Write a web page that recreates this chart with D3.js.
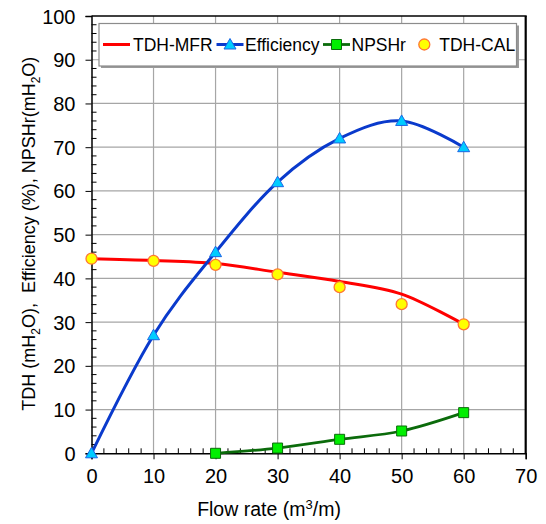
<!DOCTYPE html>
<html>
<head>
<meta charset="utf-8">
<script src="https://cdn.jsdelivr.net/npm/d3@7"></script>
<style>
  html, body { margin: 0; padding: 0; background: #fff; }
  svg { display: block; font-family: "Liberation Sans", Arial, sans-serif; }
</style>
</head>
<body>
<svg id="chart" width="546" height="524"></svg>
<script>
// ---- data ----
const flowTDH = [0, 10, 20, 30, 40, 50, 60];
const tdhMFR = [44.5, 44.1, 43.4, 41.4, 39.3, 36.4, 29.5];
const flowEff = [0, 10, 20, 30, 40, 50, 60];
const efficiency = [0, 27, 46, 62, 72, 76, 70];
const flowNPSH = [20, 30, 40, 50, 60];
const npshr = [0, 1.2, 3.2, 5.1, 9.3];
const flowCAL = [0, 10, 20, 30, 40, 50, 60];
const tdhCAL = [44.5, 44.0, 43.1, 40.9, 38.0, 34.1, 29.5];
const xTicks = [0, 10, 20, 30, 40, 50, 60, 70];
const yTicks = [0, 10, 20, 30, 40, 50, 60, 70, 80, 90, 100];
const legendLabels = ["TDH-MFR", "Efficiency", "NPSHr", "TDH-CAL"];

// ---- layout ----
const svg = d3.select("#chart");
const L = 91.5, R = 525.7, T = 16, B = 453.3;
const x = d3.scaleLinear().domain([0, 70]).range([L, R]);
const y = d3.scaleLinear().domain([0, 100]).range([B, T]);

// gridlines
const grid = svg.append("g");
grid.selectAll("line.v").data(xTicks.filter(d => d > 0 && d < 70)).enter().append("line")
  .attr("x1", d => x(d)).attr("x2", d => x(d)).attr("y1", T).attr("y2", B)
  .attr("stroke", "#a6a6a6").attr("stroke-width", 1.2);
grid.selectAll("line.h").data(yTicks.filter(d => d > 0 && d < 100)).enter().append("line")
  .attr("x1", L).attr("x2", R).attr("y1", d => y(d)).attr("y2", d => y(d))
  .attr("stroke", "#a6a6a6").attr("stroke-width", 1.2);

// frame top/right
svg.append("line").attr("x1", L).attr("x2", R + 1).attr("y1", T).attr("y2", T)
  .attr("stroke", "#000").attr("stroke-width", 1.5);
svg.append("line").attr("x1", R).attr("x2", R).attr("y1", T).attr("y2", B)
  .attr("stroke", "#000").attr("stroke-width", 2.2);

// minor ticks
const yMinor = d3.range(0, 100.01, 2).filter(v => v % 10 !== 0);
svg.append("g").selectAll("line").data(yMinor).enter().append("line")
  .attr("x1", L).attr("x2", L + 5).attr("y1", d => y(d)).attr("y2", d => y(d))
  .attr("stroke", "#000").attr("stroke-width", 1);
const xMinor = d3.range(0, 70.01, 2).filter(v => v % 10 !== 0);
svg.append("g").selectAll("line").data(xMinor).enter().append("line")
  .attr("x1", d => x(d)).attr("x2", d => x(d)).attr("y1", B).attr("y2", B - 5)
  .attr("stroke", "#000").attr("stroke-width", 1);

// axes
const xAxis = svg.append("g").attr("transform", `translate(0,${B})`)
  .call(d3.axisBottom(x).tickValues(xTicks).tickSize(6).tickPadding(10).tickFormat(d3.format("d")));
const yAxis = svg.append("g").attr("transform", `translate(${L},0)`)
  .call(d3.axisLeft(y).tickValues(yTicks).tickSize(6).tickPadding(10).tickFormat(d3.format("d")));
[xAxis, yAxis].forEach(a => {
  a.select(".domain").attr("stroke", "#000").attr("stroke-width", 1.5);
  a.selectAll(".tick line").attr("stroke", "#000").attr("stroke-width", 1);
  a.selectAll(".tick text").attr("fill", "#000").style("font-size", "20px")
    .style("font-family", "'Liberation Sans', Arial, sans-serif");
});
yAxis.selectAll(".tick text").attr("dy", "0.35em");

// axis titles
const xt = svg.append("text").attr("x", 269).attr("y", 516).attr("text-anchor", "middle")
  .style("font-size", "19.5px").attr("fill", "#000");
xt.append("tspan").text("Flow rate (m");
xt.append("tspan").attr("dy", -7.5).style("font-size", "13px").text("3");
xt.append("tspan").attr("dy", 7.5).text("/m)");

const yt = svg.append("text").attr("transform", `translate(35,${(T + B) / 2 - 1}) rotate(-90)`)
  .attr("text-anchor", "middle").style("font-size", "18px").attr("fill", "#000")
  .attr("xml:space", "preserve");
yt.append("tspan").text("TDH (mH");
yt.append("tspan").attr("dy", 5).style("font-size", "12px").text("2");
yt.append("tspan").attr("dy", -5).text("O),\u00a0 Efficiency (%), NPSHr(mH");
yt.append("tspan").attr("dy", 5).style("font-size", "12px").text("2");
yt.append("tspan").attr("dy", -5).text("O)");

// lines
const curve = d3.curveCardinal.tension(0);
const lineGen = (xs) => d3.line().x((d, i) => x(xs[i])).y(d => y(d)).curve(curve);

svg.append("path").datum(tdhMFR).attr("d", lineGen(flowTDH))
  .attr("fill", "none").attr("stroke", "#ff0000").attr("stroke-width", 3);
svg.append("path").datum(efficiency).attr("d", lineGen(flowEff))
  .attr("fill", "none").attr("stroke", "#0a3acc").attr("stroke-width", 3);
svg.append("path").datum(npshr).attr("d", lineGen(flowNPSH))
  .attr("fill", "none").attr("stroke", "#0b6b0b").attr("stroke-width", 2.8);

const triPath = "M0,-6 L6,4.5 L-6,4.5 Z";
const sqPath = "M-5,-5 L5,-5 L5,5 L-5,5 Z";

svg.append("g").selectAll("path").data(efficiency).enter().append("path")
  .attr("d", triPath).attr("transform", (d, i) => `translate(${x(flowEff[i])},${y(d)})`)
  .attr("fill", "#00ccff").attr("stroke", "#1a66e6").attr("stroke-width", 1);
svg.append("g").selectAll("path").data(npshr).enter().append("path")
  .attr("d", sqPath).attr("transform", (d, i) => `translate(${x(flowNPSH[i])},${y(d)})`)
  .attr("fill", "#00ee00").attr("stroke", "#0b6b0b").attr("stroke-width", 1);
svg.append("g").selectAll("circle").data(tdhCAL).enter().append("circle")
  .attr("cx", (d, i) => x(flowCAL[i])).attr("cy", d => y(d)).attr("r", 5.5)
  .attr("fill", "#ffff00").attr("stroke", "#ff7733").attr("stroke-width", 1.3);

// legend
const lg = svg.append("g");
lg.append("rect").attr("x", 101).attr("y", 25.5).attr("width", 418).attr("height", 42.5).attr("fill", "#9a9a9a");
lg.append("rect").attr("x", 99).attr("y", 23.5).attr("width", 417.5).attr("height", 42.5)
  .attr("fill", "#fff").attr("stroke", "#8c8c8c").attr("stroke-width", 1.2);
const ly = 44.5;
const items = [
  { lx1: 103, lx2: 130, tx: 133, color: "#ff0000", w: 3, marker: null },
  { lx1: 216.5, lx2: 243.5, tx: 245, color: "#0a3acc", w: 3, marker: "tri" },
  { lx1: 323, lx2: 350, tx: 351.5, color: "#0b6b0b", w: 2.8, marker: "sq" },
  { lx1: 424.3, lx2: 424.3, tx: 439.3, color: null, w: 0, marker: "circ" }
];
items.forEach((it, i) => {
  if (it.color) lg.append("line").attr("x1", it.lx1).attr("x2", it.lx2).attr("y1", ly).attr("y2", ly)
    .attr("stroke", it.color).attr("stroke-width", it.w);
  const cx = (it.lx1 + it.lx2) / 2;
  if (it.marker === "tri") lg.append("path").attr("d", triPath).attr("transform", `translate(${cx},${ly})`)
    .attr("fill", "#00ccff").attr("stroke", "#1a66e6").attr("stroke-width", 1);
  if (it.marker === "sq") lg.append("path").attr("d", sqPath).attr("transform", `translate(${cx},${ly})`)
    .attr("fill", "#00ee00").attr("stroke", "#0b6b0b").attr("stroke-width", 1);
  if (it.marker === "circ") lg.append("circle").attr("cx", cx).attr("cy", ly).attr("r", 5.5)
    .attr("fill", "#ffff00").attr("stroke", "#ff7733").attr("stroke-width", 1.3);
  lg.append("text").attr("x", it.tx).attr("y", ly + 6.5).style("font-size", "17.5px").attr("fill", "#000")
    .text(legendLabels[i]);
});
</script>
</body>
</html>
